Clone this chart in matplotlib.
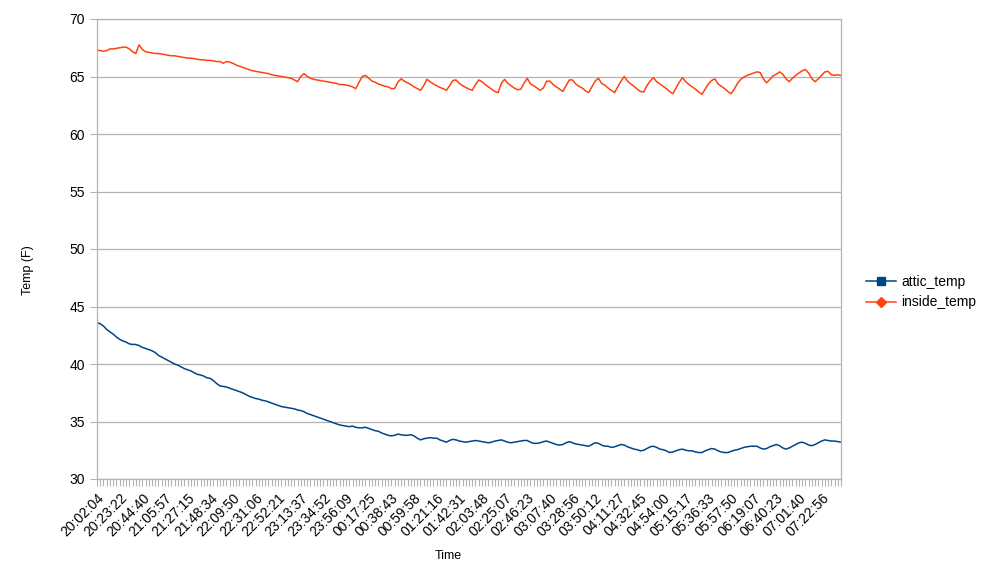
import matplotlib
matplotlib.use("Agg")
import matplotlib.pyplot as plt
from matplotlib.lines import Line2D
import numpy as np

# one label every 7 samples (~3 min sampling)
time_labels = ["20:02:04", "20:23:22", "20:44:40", "21:05:57", "21:27:15", "21:48:34",
               "22:09:50", "22:31:06", "22:52:21", "23:13:37", "23:34:52", "23:56:09",
               "00:17:25", "00:38:43", "00:59:58", "01:21:16", "01:42:31", "02:03:48",
               "02:25:07", "02:46:23", "03:07:40", "03:28:56", "03:50:12", "04:11:27",
               "04:32:45", "04:54:00", "05:15:17", "05:36:33", "05:57:50", "06:19:07",
               "06:40:23", "07:01:40", "07:22:56"]
label_step = 7

attic_temp = [
    43.6, 43.5, 43.3, 43.0, 42.8, 42.6, 42.35, 42.15, 42.0, 41.9,
    41.75, 41.7, 41.7, 41.6, 41.45, 41.35, 41.25, 41.15, 41.0, 40.75,
    40.6, 40.45, 40.3, 40.15, 40.0, 39.9, 39.75, 39.6, 39.5, 39.4,
    39.25, 39.1, 39.05, 38.95, 38.8, 38.75, 38.55, 38.3, 38.1, 38.05,
    38.0, 37.9, 37.8, 37.7, 37.6, 37.5, 37.35, 37.2, 37.1, 37.0,
    36.95, 36.85, 36.8, 36.7, 36.6, 36.5, 36.4, 36.3, 36.25, 36.2,
    36.15, 36.1, 36.0, 35.95, 35.85, 35.7, 35.6, 35.5, 35.4, 35.3,
    35.2, 35.1, 35.0, 34.9, 34.8, 34.7, 34.65, 34.6, 34.55, 34.6,
    34.5, 34.45, 34.45, 34.5, 34.4, 34.3, 34.2, 34.15, 34.0, 33.9,
    33.8, 33.75, 33.8, 33.9, 33.85, 33.8, 33.8, 33.85, 33.75, 33.55,
    33.4, 33.5, 33.55, 33.6, 33.55, 33.55, 33.4, 33.3, 33.2, 33.35,
    33.45, 33.4, 33.3, 33.25, 33.2, 33.25, 33.3, 33.35, 33.3, 33.25,
    33.2, 33.15, 33.2, 33.3, 33.35, 33.4, 33.3, 33.2, 33.15, 33.2,
    33.25, 33.3, 33.35, 33.35, 33.2, 33.1, 33.1, 33.15, 33.25, 33.3,
    33.2, 33.1, 33.0, 32.95, 33.0, 33.15, 33.25, 33.15, 33.05, 33.0,
    32.95, 32.9, 32.85, 33.0, 33.15, 33.1, 32.95, 32.85, 32.85, 32.75,
    32.8, 32.9, 33.0, 32.95, 32.8, 32.7, 32.6, 32.55, 32.45, 32.5,
    32.65, 32.8, 32.85, 32.75, 32.6, 32.55, 32.45, 32.3, 32.35, 32.45,
    32.55, 32.6, 32.5, 32.45, 32.45, 32.35, 32.3, 32.3, 32.45, 32.55,
    32.65, 32.6, 32.45, 32.35, 32.3, 32.3, 32.4, 32.5, 32.55, 32.65,
    32.75, 32.8, 32.85, 32.85, 32.85, 32.7, 32.6, 32.65, 32.8, 32.9,
    33.0, 32.9, 32.7, 32.6, 32.7, 32.85, 33.0, 33.15, 33.2, 33.1,
    32.95, 32.9, 33.0, 33.15, 33.3, 33.4, 33.35, 33.3, 33.3, 33.25,
    33.2,
]

inside_temp = [
    67.3, 67.25, 67.2, 67.25, 67.4, 67.4, 67.45, 67.5, 67.55, 67.55,
    67.4, 67.15, 67.0, 67.75, 67.35, 67.15, 67.1, 67.05, 67.0, 67.0,
    66.95, 66.9, 66.85, 66.8, 66.8, 66.75, 66.7, 66.65, 66.6, 66.6,
    66.55, 66.5, 66.45, 66.45, 66.4, 66.4, 66.35, 66.3, 66.3, 66.15,
    66.3, 66.25, 66.15, 66.0, 65.9, 65.8, 65.7, 65.6, 65.5, 65.45,
    65.4, 65.35, 65.3, 65.25, 65.15, 65.1, 65.05, 65.0, 64.95, 64.9,
    64.85, 64.7, 64.55, 65.0, 65.25, 65.0, 64.85, 64.75, 64.7, 64.65,
    64.6, 64.55, 64.5, 64.45, 64.4, 64.3, 64.3, 64.25, 64.2, 64.1,
    63.95, 64.5, 65.0, 65.1, 64.85, 64.6, 64.5, 64.35, 64.25, 64.15,
    64.1, 63.95, 63.95, 64.5, 64.8, 64.6, 64.45, 64.3, 64.1, 63.95,
    63.8, 64.2, 64.75, 64.55, 64.35, 64.2, 64.05, 63.95, 63.8, 64.2,
    64.65, 64.7, 64.4, 64.2, 64.05, 63.9, 63.8, 64.3, 64.7, 64.55,
    64.3, 64.1, 63.9, 63.7, 63.6, 64.4, 64.75, 64.4, 64.2, 64.0,
    63.85, 63.9, 64.4, 64.85, 64.35, 64.2, 64.0, 63.8, 64.0, 64.6,
    64.6, 64.3, 64.1, 63.9, 63.7, 64.2, 64.7, 64.7, 64.35, 64.15,
    64.0, 63.75, 63.6, 64.1, 64.6, 64.85, 64.4, 64.25, 64.0, 63.8,
    63.6, 64.1, 64.6, 65.0, 64.6, 64.35, 64.15, 63.9, 63.7, 63.65,
    64.2, 64.6, 64.9, 64.55, 64.35, 64.15, 63.95, 63.7, 63.5, 64.0,
    64.5, 64.9, 64.55, 64.3, 64.1, 63.9, 63.65, 63.45, 63.9, 64.35,
    64.65, 64.8, 64.35, 64.15, 63.95, 63.7, 63.5, 63.9, 64.4, 64.75,
    64.95, 65.1, 65.2, 65.3, 65.4, 65.35, 64.8, 64.45, 64.75, 65.05,
    65.2, 65.4, 65.2, 64.8, 64.55, 64.85, 65.1, 65.3, 65.5, 65.6,
    65.3, 64.8, 64.55, 64.8, 65.1, 65.4, 65.45, 65.15, 65.1, 65.15,
    65.1,
]

blue = "#004586"
orange = "#ff420e"
grey = "#b3b3b3"

plt.rcParams["font.family"] = ["Liberation Sans", "DejaVu Sans"]

fig = plt.figure(figsize=(9.82, 5.84), dpi=100)
ax = fig.add_axes([97 / 982, 105 / 584, 744 / 982, 460 / 584])

x = np.arange(len(attic_temp))
ax.plot(x, attic_temp, color=blue, linewidth=1.1)
ax.plot(x, inside_temp, color=orange, linewidth=1.1)

ax.set_xlim(0, len(attic_temp) - 1)
ax.set_ylim(30, 70)
ax.set_yticks(range(30, 71, 5))
ax.yaxis.grid(True, color=grey, linewidth=0.9)
ax.set_axisbelow(True)

ax.set_xticks(x, minor=True)
ax.set_xticks(x[::label_step][:len(time_labels)])
ax.set_xticklabels(time_labels, rotation=45, ha="right", rotation_mode="anchor", fontsize=10)
ax.tick_params(axis="x", which="both", length=5, color=grey, width=0.8)
ax.tick_params(axis="y", length=5, color=grey, width=0.8, labelsize=10)

for s in ax.spines.values():
    s.set_color(grey)
    s.set_linewidth(0.9)

# axis titles placed like the LibreOffice export
fig.text(28 / 982, 1 - 270 / 584, "Temp (F)", rotation=90, fontsize=9,
         ha="center", va="center")
fig.text(448 / 982, 1 - 556 / 584, "Time", fontsize=9, ha="center", va="center")

handles = [
    Line2D([], [], color=blue, marker="s", markersize=6, linewidth=1.1),
    Line2D([], [], color=orange, marker="D", markersize=5, linewidth=1.1),
]
fig.legend(handles, ["attic_temp", "inside_temp"], loc="center left",
           bbox_to_anchor=(853 / 982, 1 - 292 / 584), frameon=False,
           fontsize=10, handlelength=2.2, handletextpad=0.4, labelspacing=0.5)

fig.savefig("out.png", dpi=100)
